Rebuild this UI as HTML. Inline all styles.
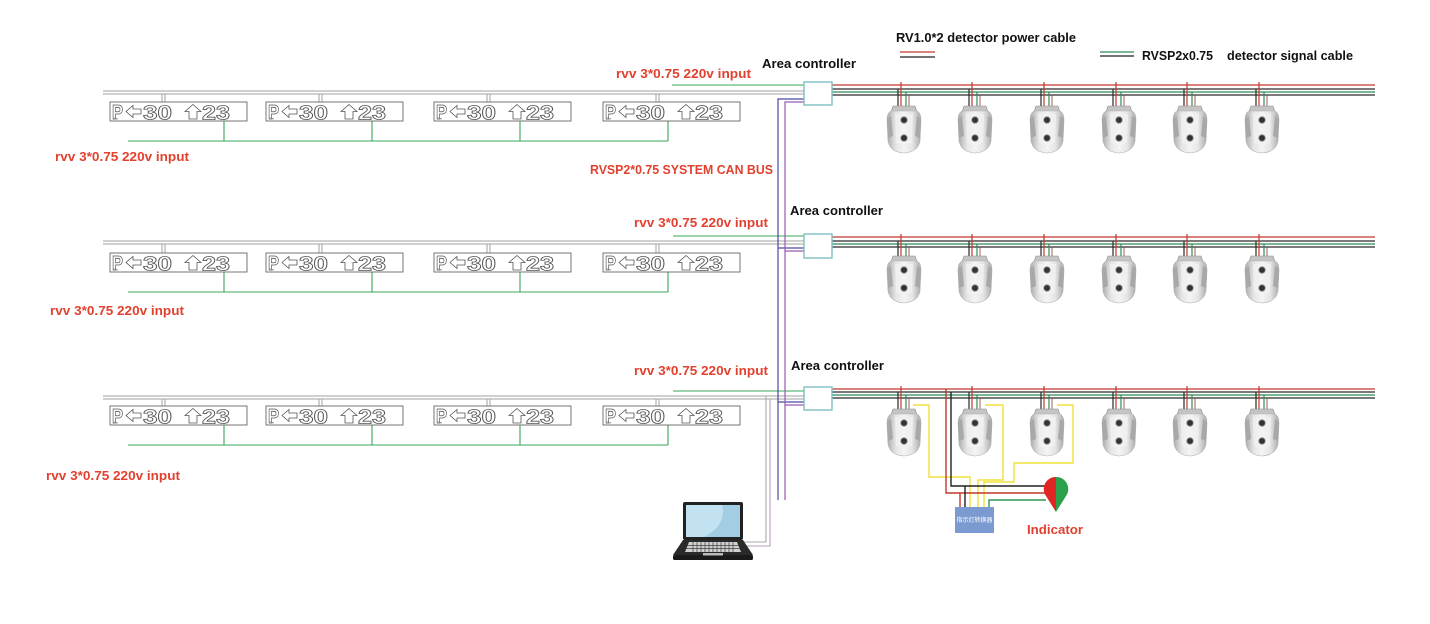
<!DOCTYPE html>
<html><head><meta charset="utf-8"><style>
html,body{margin:0;padding:0;background:#fff;}
svg{display:block;}
.t{font-family:"Liberation Sans","Noto Sans CJK SC",sans-serif;font-weight:bold;font-size:13px;}
.red{fill:#e2412f;}
.blk{fill:#111;}
.sg{font-family:"Liberation Sans",sans-serif;font-weight:bold;font-size:20px;fill:#fff;stroke:#555;stroke-width:0.8;}
.ar{fill:#fff;stroke:#555;stroke-width:0.8;}
.sb{fill:#fff;stroke:#666;stroke-width:0.9;}
</style></head><body>
<svg width="1430" height="624" viewBox="0 0 1430 624" xmlns="http://www.w3.org/2000/svg">
<defs>
<linearGradient id="dg" x1="0" y1="0" x2="1" y2="0">
<stop offset="0" stop-color="#a9a9a9"/><stop offset="0.25" stop-color="#e4e4e4"/><stop offset="0.5" stop-color="#f4f4f4"/><stop offset="0.75" stop-color="#e4e4e4"/><stop offset="1" stop-color="#a9a9a9"/>
</linearGradient>
</defs>
<rect width="1430" height="624" fill="#fff"/>

<!-- Legend -->
<text class="t blk" x="896" y="42" textLength="180" lengthAdjust="spacingAndGlyphs">RV1.0*2 detector power cable</text>
<line x1="900" y1="52" x2="935" y2="52" stroke="#c0392b" stroke-width="1.2"/>
<line x1="900" y1="57" x2="935" y2="57" stroke="#222" stroke-width="1.2"/>
<line x1="1100" y1="52" x2="1134" y2="52" stroke="#2e8b57" stroke-width="1.2"/>
<line x1="1100" y1="56" x2="1134" y2="56" stroke="#222" stroke-width="1.2"/>
<text class="t blk" x="1142" y="60" textLength="71" lengthAdjust="spacingAndGlyphs">RVSP2x0.75</text>
<text class="t blk" x="1227" y="60" textLength="126" lengthAdjust="spacingAndGlyphs">detector signal cable</text>

<!-- Labels -->
<text class="t blk" x="762" y="68" textLength="94" lengthAdjust="spacingAndGlyphs">Area controller</text>
<text class="t red" x="616" y="78" textLength="135" lengthAdjust="spacingAndGlyphs">rvv 3*0.75 220v input</text>
<text class="t red" x="55" y="161" textLength="134" lengthAdjust="spacingAndGlyphs">rvv 3*0.75 220v input</text>
<text class="t red" x="590" y="174" textLength="183" lengthAdjust="spacingAndGlyphs">RVSP2*0.75 SYSTEM CAN BUS</text>
<text class="t blk" x="790" y="215" textLength="93" lengthAdjust="spacingAndGlyphs">Area controller</text>
<text class="t red" x="634" y="227" textLength="134" lengthAdjust="spacingAndGlyphs">rvv 3*0.75 220v input</text>
<text class="t red" x="50" y="315" textLength="134" lengthAdjust="spacingAndGlyphs">rvv 3*0.75 220v input</text>
<text class="t blk" x="791" y="370" textLength="93" lengthAdjust="spacingAndGlyphs">Area controller</text>
<text class="t red" x="634" y="375" textLength="134" lengthAdjust="spacingAndGlyphs">rvv 3*0.75 220v input</text>
<text class="t red" x="46" y="480" textLength="134" lengthAdjust="spacingAndGlyphs">rvv 3*0.75 220v input</text>
<text class="t red" x="1027" y="534" textLength="56" lengthAdjust="spacingAndGlyphs">Indicator</text>

<!-- Grey main lines (left) -->
<g stroke="#a0a0a0" stroke-width="1" fill="none">
<path d="M103,91H804M103,94H804"/>
<path d="M103,241H804M103,244H804"/>
<path d="M103,396H804M103,399H804"/>
<!-- drops to signs -->
<path d="M162,94V102M165,94V102M319,94V102M322,94V102M487,94V102M490,94V102M656,94V102M659,94V102"/>
<path d="M162,244V253M165,244V253M319,244V253M322,244V253M487,244V253M490,244V253M656,244V253M659,244V253"/>
<path d="M162,399V406M165,399V406M319,399V406M322,399V406M487,399V406M490,399V406M656,399V406M659,399V406"/>
</g>

<!-- Green lines -->
<g stroke="#3aa55a" stroke-width="1.1" fill="none">
<path d="M128,141H668M224,121V141M372,121V141M520,121V141M668,121V141"/>
<path d="M128,292H668M224,272V292M372,272V292M520,272V292M668,272V292"/>
<path d="M128,445H668M224,425V445M372,425V445M520,425V445M668,425V445"/>
<path d="M672,85H804M673,236H804M673,391H804"/>
</g>

<!-- CAN bus -->
<g fill="none" stroke-width="1.2">
<path d="M804,99H778V500M778,248H804M778,402H804" stroke="#4a4aa0"/>
<path d="M804,102H785V500M785,251H804M785,405H804" stroke="#9a5ab0"/>
</g>
<!-- laptop wires -->
<path d="M743,542H766V396" fill="none" stroke="#aaa" stroke-width="1.1"/>
<path d="M743,546H770V399" fill="none" stroke="#b79cc0" stroke-width="1.1"/>

<!-- Right bus lines -->
<g fill="none" stroke-width="1.2">
<path d="M832,85H1375M832,237H1375M832,389H1375" stroke="#c0392b"/>
<path d="M832,89H1375M832,95H1375M832,241H1375M832,247H1375M832,392H1375M832,398H1375" stroke="#2a2a2a"/>
<path d="M832,92H1375M832,244H1375M832,395H1375" stroke="#2e8b57"/>
<!-- detector drops -->
<path d="M898,89V109M969,89V109M1041,89V109M1113,89V109M1184,89V109M1256,89V109M898,241V259M969,241V259M1041,241V259M1113,241V259M1184,241V259M1256,241V259M898,392V412M969,392V412M1041,392V412M1113,392V412M1184,392V412M1256,392V412" stroke="#2a2a2a"/>
<path d="M901,82V109M972,82V109M1044,82V109M1116,82V109M1187,82V109M1259,82V109M901,234V259M972,234V259M1044,234V259M1116,234V259M1187,234V259M1259,234V259M901,386V412M972,386V412M1044,386V412M1116,386V412M1187,386V412M1259,386V412" stroke="#c0392b"/>
<path d="M906,92V109M977,92V109M1049,92V109M1121,92V109M1192,92V109M1264,92V109M906,244V259M977,244V259M1049,244V259M1121,244V259M1192,244V259M1264,244V259M906,395V412M977,395V412M1049,395V412M1121,395V412M1192,395V412M1264,395V412" stroke="#2e8b57"/>
<path d="M909,95V109M980,95V109M1052,95V109M1124,95V109M1195,95V109M1267,95V109M909,247V259M980,247V259M1052,247V259M1124,247V259M1195,247V259M1267,247V259M909,398V412M980,398V412M1052,398V412M1124,398V412M1195,398V412M1267,398V412" stroke="#9a4a4a" stroke-width="0.9"/>
</g>

<!-- Controllers -->
<g fill="#fff" stroke="#7fbfc4" stroke-width="1.4">
<rect x="804" y="82" width="28" height="23"/>
<rect x="804" y="234" width="28" height="24"/>
<rect x="804" y="387" width="28" height="23"/>
</g>

<!-- Indicator wiring (row 3) -->
<g fill="none" stroke-width="1.4">
<path d="M913,405H929V477H970V507" stroke="#f2e23a"/>
<path d="M985,405H1003V480H978V507" stroke="#f2e23a"/>
<path d="M1057,405H1073V463H1014V482H984V507" stroke="#f2e23a"/>
<path d="M946,389V493H1046M960,493V507" stroke="#c0392b"/>
<path d="M951,392V486H1046M965,486V507" stroke="#222"/>
<path d="M989,507V500H1046" stroke="#2e9a55"/>
</g>
<rect x="955" y="507" width="39" height="26" fill="#7b9bd0"/>
<text x="974.5" y="522" text-anchor="middle" font-family="'Liberation Sans','Noto Sans CJK SC',sans-serif" font-size="6" fill="#fff">指示灯转换器</text>
<path d="M1056,512 L1046,496 A12,12 0 0,1 1056,477 Z" fill="#e02525"/>
<path d="M1056,512 L1066,496 A12,12 0 0,0 1056,477 Z" fill="#2aa04a"/>

<!-- Signs -->
<g transform="translate(110,102)"><rect class="sb" width="137" height="19"/><text class="sg" x="2" y="17" textLength="11" lengthAdjust="spacingAndGlyphs">P</text><text x="3.5" y="17.5" font-size="3" fill="#555" font-family="Liberation Sans,sans-serif">Car</text><path class="ar" d="M16,9.5L23,3.5V7H31V12H23V15.5Z"/><text class="sg" x="33" y="17.5" textLength="29" lengthAdjust="spacingAndGlyphs">30</text><path class="ar" d="M83,2.5L91,9.5H87V17H79V9.5H75Z"/><text class="sg" x="92" y="17.5" textLength="28" lengthAdjust="spacingAndGlyphs">23</text></g>
<g transform="translate(266,102)"><rect class="sb" width="137" height="19"/><text class="sg" x="2" y="17" textLength="11" lengthAdjust="spacingAndGlyphs">P</text><text x="3.5" y="17.5" font-size="3" fill="#555" font-family="Liberation Sans,sans-serif">Car</text><path class="ar" d="M16,9.5L23,3.5V7H31V12H23V15.5Z"/><text class="sg" x="33" y="17.5" textLength="29" lengthAdjust="spacingAndGlyphs">30</text><path class="ar" d="M83,2.5L91,9.5H87V17H79V9.5H75Z"/><text class="sg" x="92" y="17.5" textLength="28" lengthAdjust="spacingAndGlyphs">23</text></g>
<g transform="translate(434,102)"><rect class="sb" width="137" height="19"/><text class="sg" x="2" y="17" textLength="11" lengthAdjust="spacingAndGlyphs">P</text><text x="3.5" y="17.5" font-size="3" fill="#555" font-family="Liberation Sans,sans-serif">Car</text><path class="ar" d="M16,9.5L23,3.5V7H31V12H23V15.5Z"/><text class="sg" x="33" y="17.5" textLength="29" lengthAdjust="spacingAndGlyphs">30</text><path class="ar" d="M83,2.5L91,9.5H87V17H79V9.5H75Z"/><text class="sg" x="92" y="17.5" textLength="28" lengthAdjust="spacingAndGlyphs">23</text></g>
<g transform="translate(603,102)"><rect class="sb" width="137" height="19"/><text class="sg" x="2" y="17" textLength="11" lengthAdjust="spacingAndGlyphs">P</text><text x="3.5" y="17.5" font-size="3" fill="#555" font-family="Liberation Sans,sans-serif">Car</text><path class="ar" d="M16,9.5L23,3.5V7H31V12H23V15.5Z"/><text class="sg" x="33" y="17.5" textLength="29" lengthAdjust="spacingAndGlyphs">30</text><path class="ar" d="M83,2.5L91,9.5H87V17H79V9.5H75Z"/><text class="sg" x="92" y="17.5" textLength="28" lengthAdjust="spacingAndGlyphs">23</text></g>

<g transform="translate(110,253)"><rect class="sb" width="137" height="19"/><text class="sg" x="2" y="17" textLength="11" lengthAdjust="spacingAndGlyphs">P</text><text x="3.5" y="17.5" font-size="3" fill="#555" font-family="Liberation Sans,sans-serif">Car</text><path class="ar" d="M16,9.5L23,3.5V7H31V12H23V15.5Z"/><text class="sg" x="33" y="17.5" textLength="29" lengthAdjust="spacingAndGlyphs">30</text><path class="ar" d="M83,2.5L91,9.5H87V17H79V9.5H75Z"/><text class="sg" x="92" y="17.5" textLength="28" lengthAdjust="spacingAndGlyphs">23</text></g>
<g transform="translate(266,253)"><rect class="sb" width="137" height="19"/><text class="sg" x="2" y="17" textLength="11" lengthAdjust="spacingAndGlyphs">P</text><text x="3.5" y="17.5" font-size="3" fill="#555" font-family="Liberation Sans,sans-serif">Car</text><path class="ar" d="M16,9.5L23,3.5V7H31V12H23V15.5Z"/><text class="sg" x="33" y="17.5" textLength="29" lengthAdjust="spacingAndGlyphs">30</text><path class="ar" d="M83,2.5L91,9.5H87V17H79V9.5H75Z"/><text class="sg" x="92" y="17.5" textLength="28" lengthAdjust="spacingAndGlyphs">23</text></g>
<g transform="translate(434,253)"><rect class="sb" width="137" height="19"/><text class="sg" x="2" y="17" textLength="11" lengthAdjust="spacingAndGlyphs">P</text><text x="3.5" y="17.5" font-size="3" fill="#555" font-family="Liberation Sans,sans-serif">Car</text><path class="ar" d="M16,9.5L23,3.5V7H31V12H23V15.5Z"/><text class="sg" x="33" y="17.5" textLength="29" lengthAdjust="spacingAndGlyphs">30</text><path class="ar" d="M83,2.5L91,9.5H87V17H79V9.5H75Z"/><text class="sg" x="92" y="17.5" textLength="28" lengthAdjust="spacingAndGlyphs">23</text></g>
<g transform="translate(603,253)"><rect class="sb" width="137" height="19"/><text class="sg" x="2" y="17" textLength="11" lengthAdjust="spacingAndGlyphs">P</text><text x="3.5" y="17.5" font-size="3" fill="#555" font-family="Liberation Sans,sans-serif">Car</text><path class="ar" d="M16,9.5L23,3.5V7H31V12H23V15.5Z"/><text class="sg" x="33" y="17.5" textLength="29" lengthAdjust="spacingAndGlyphs">30</text><path class="ar" d="M83,2.5L91,9.5H87V17H79V9.5H75Z"/><text class="sg" x="92" y="17.5" textLength="28" lengthAdjust="spacingAndGlyphs">23</text></g>

<g transform="translate(110,406)"><rect class="sb" width="137" height="19"/><text class="sg" x="2" y="17" textLength="11" lengthAdjust="spacingAndGlyphs">P</text><text x="3.5" y="17.5" font-size="3" fill="#555" font-family="Liberation Sans,sans-serif">Car</text><path class="ar" d="M16,9.5L23,3.5V7H31V12H23V15.5Z"/><text class="sg" x="33" y="17.5" textLength="29" lengthAdjust="spacingAndGlyphs">30</text><path class="ar" d="M83,2.5L91,9.5H87V17H79V9.5H75Z"/><text class="sg" x="92" y="17.5" textLength="28" lengthAdjust="spacingAndGlyphs">23</text></g>
<g transform="translate(266,406)"><rect class="sb" width="137" height="19"/><text class="sg" x="2" y="17" textLength="11" lengthAdjust="spacingAndGlyphs">P</text><text x="3.5" y="17.5" font-size="3" fill="#555" font-family="Liberation Sans,sans-serif">Car</text><path class="ar" d="M16,9.5L23,3.5V7H31V12H23V15.5Z"/><text class="sg" x="33" y="17.5" textLength="29" lengthAdjust="spacingAndGlyphs">30</text><path class="ar" d="M83,2.5L91,9.5H87V17H79V9.5H75Z"/><text class="sg" x="92" y="17.5" textLength="28" lengthAdjust="spacingAndGlyphs">23</text></g>
<g transform="translate(434,406)"><rect class="sb" width="137" height="19"/><text class="sg" x="2" y="17" textLength="11" lengthAdjust="spacingAndGlyphs">P</text><text x="3.5" y="17.5" font-size="3" fill="#555" font-family="Liberation Sans,sans-serif">Car</text><path class="ar" d="M16,9.5L23,3.5V7H31V12H23V15.5Z"/><text class="sg" x="33" y="17.5" textLength="29" lengthAdjust="spacingAndGlyphs">30</text><path class="ar" d="M83,2.5L91,9.5H87V17H79V9.5H75Z"/><text class="sg" x="92" y="17.5" textLength="28" lengthAdjust="spacingAndGlyphs">23</text></g>
<g transform="translate(603,406)"><rect class="sb" width="137" height="19"/><text class="sg" x="2" y="17" textLength="11" lengthAdjust="spacingAndGlyphs">P</text><text x="3.5" y="17.5" font-size="3" fill="#555" font-family="Liberation Sans,sans-serif">Car</text><path class="ar" d="M16,9.5L23,3.5V7H31V12H23V15.5Z"/><text class="sg" x="33" y="17.5" textLength="29" lengthAdjust="spacingAndGlyphs">30</text><path class="ar" d="M83,2.5L91,9.5H87V17H79V9.5H75Z"/><text class="sg" x="92" y="17.5" textLength="28" lengthAdjust="spacingAndGlyphs">23</text></g>

<!-- Detectors -->
<g id="dets">
<g transform="translate(886,105)"><path d="M7,1H29L31,7H5Z" fill="#c4c4c4" stroke="#8a8a8a" stroke-width="0.6"/><path d="M5,6H31Q35,8 35,15L34,36Q32,47 18,48Q4,47 2,36L1,15Q1,8 5,6Z" fill="url(#dg)" stroke="#b0b0b0" stroke-width="0.6"/><path d="M1,14L5,11L7,31L2,33Z" fill="#a8a8a8"/><path d="M35,14L31,11L29,31L34,33Z" fill="#a8a8a8"/><path d="M9,9H27L26,38Q18,41 10,38Z" fill="#f2f2f2" opacity=".7"/><circle cx="18" cy="15" r="3.3" fill="#333" stroke="#999" stroke-width="0.8"/><circle cx="18" cy="33" r="3.3" fill="#333" stroke="#999" stroke-width="0.8"/></g>
<g transform="translate(957,105)"><path d="M7,1H29L31,7H5Z" fill="#c4c4c4" stroke="#8a8a8a" stroke-width="0.6"/><path d="M5,6H31Q35,8 35,15L34,36Q32,47 18,48Q4,47 2,36L1,15Q1,8 5,6Z" fill="url(#dg)" stroke="#b0b0b0" stroke-width="0.6"/><path d="M1,14L5,11L7,31L2,33Z" fill="#a8a8a8"/><path d="M35,14L31,11L29,31L34,33Z" fill="#a8a8a8"/><path d="M9,9H27L26,38Q18,41 10,38Z" fill="#f2f2f2" opacity=".7"/><circle cx="18" cy="15" r="3.3" fill="#333" stroke="#999" stroke-width="0.8"/><circle cx="18" cy="33" r="3.3" fill="#333" stroke="#999" stroke-width="0.8"/></g>
<g transform="translate(1029,105)"><path d="M7,1H29L31,7H5Z" fill="#c4c4c4" stroke="#8a8a8a" stroke-width="0.6"/><path d="M5,6H31Q35,8 35,15L34,36Q32,47 18,48Q4,47 2,36L1,15Q1,8 5,6Z" fill="url(#dg)" stroke="#b0b0b0" stroke-width="0.6"/><path d="M1,14L5,11L7,31L2,33Z" fill="#a8a8a8"/><path d="M35,14L31,11L29,31L34,33Z" fill="#a8a8a8"/><path d="M9,9H27L26,38Q18,41 10,38Z" fill="#f2f2f2" opacity=".7"/><circle cx="18" cy="15" r="3.3" fill="#333" stroke="#999" stroke-width="0.8"/><circle cx="18" cy="33" r="3.3" fill="#333" stroke="#999" stroke-width="0.8"/></g>
<g transform="translate(1101,105)"><path d="M7,1H29L31,7H5Z" fill="#c4c4c4" stroke="#8a8a8a" stroke-width="0.6"/><path d="M5,6H31Q35,8 35,15L34,36Q32,47 18,48Q4,47 2,36L1,15Q1,8 5,6Z" fill="url(#dg)" stroke="#b0b0b0" stroke-width="0.6"/><path d="M1,14L5,11L7,31L2,33Z" fill="#a8a8a8"/><path d="M35,14L31,11L29,31L34,33Z" fill="#a8a8a8"/><path d="M9,9H27L26,38Q18,41 10,38Z" fill="#f2f2f2" opacity=".7"/><circle cx="18" cy="15" r="3.3" fill="#333" stroke="#999" stroke-width="0.8"/><circle cx="18" cy="33" r="3.3" fill="#333" stroke="#999" stroke-width="0.8"/></g>
<g transform="translate(1172,105)"><path d="M7,1H29L31,7H5Z" fill="#c4c4c4" stroke="#8a8a8a" stroke-width="0.6"/><path d="M5,6H31Q35,8 35,15L34,36Q32,47 18,48Q4,47 2,36L1,15Q1,8 5,6Z" fill="url(#dg)" stroke="#b0b0b0" stroke-width="0.6"/><path d="M1,14L5,11L7,31L2,33Z" fill="#a8a8a8"/><path d="M35,14L31,11L29,31L34,33Z" fill="#a8a8a8"/><path d="M9,9H27L26,38Q18,41 10,38Z" fill="#f2f2f2" opacity=".7"/><circle cx="18" cy="15" r="3.3" fill="#333" stroke="#999" stroke-width="0.8"/><circle cx="18" cy="33" r="3.3" fill="#333" stroke="#999" stroke-width="0.8"/></g>
<g transform="translate(1244,105)"><path d="M7,1H29L31,7H5Z" fill="#c4c4c4" stroke="#8a8a8a" stroke-width="0.6"/><path d="M5,6H31Q35,8 35,15L34,36Q32,47 18,48Q4,47 2,36L1,15Q1,8 5,6Z" fill="url(#dg)" stroke="#b0b0b0" stroke-width="0.6"/><path d="M1,14L5,11L7,31L2,33Z" fill="#a8a8a8"/><path d="M35,14L31,11L29,31L34,33Z" fill="#a8a8a8"/><path d="M9,9H27L26,38Q18,41 10,38Z" fill="#f2f2f2" opacity=".7"/><circle cx="18" cy="15" r="3.3" fill="#333" stroke="#999" stroke-width="0.8"/><circle cx="18" cy="33" r="3.3" fill="#333" stroke="#999" stroke-width="0.8"/></g>

<g transform="translate(886,255)"><path d="M7,1H29L31,7H5Z" fill="#c4c4c4" stroke="#8a8a8a" stroke-width="0.6"/><path d="M5,6H31Q35,8 35,15L34,36Q32,47 18,48Q4,47 2,36L1,15Q1,8 5,6Z" fill="url(#dg)" stroke="#b0b0b0" stroke-width="0.6"/><path d="M1,14L5,11L7,31L2,33Z" fill="#a8a8a8"/><path d="M35,14L31,11L29,31L34,33Z" fill="#a8a8a8"/><path d="M9,9H27L26,38Q18,41 10,38Z" fill="#f2f2f2" opacity=".7"/><circle cx="18" cy="15" r="3.3" fill="#333" stroke="#999" stroke-width="0.8"/><circle cx="18" cy="33" r="3.3" fill="#333" stroke="#999" stroke-width="0.8"/></g>
<g transform="translate(957,255)"><path d="M7,1H29L31,7H5Z" fill="#c4c4c4" stroke="#8a8a8a" stroke-width="0.6"/><path d="M5,6H31Q35,8 35,15L34,36Q32,47 18,48Q4,47 2,36L1,15Q1,8 5,6Z" fill="url(#dg)" stroke="#b0b0b0" stroke-width="0.6"/><path d="M1,14L5,11L7,31L2,33Z" fill="#a8a8a8"/><path d="M35,14L31,11L29,31L34,33Z" fill="#a8a8a8"/><path d="M9,9H27L26,38Q18,41 10,38Z" fill="#f2f2f2" opacity=".7"/><circle cx="18" cy="15" r="3.3" fill="#333" stroke="#999" stroke-width="0.8"/><circle cx="18" cy="33" r="3.3" fill="#333" stroke="#999" stroke-width="0.8"/></g>
<g transform="translate(1029,255)"><path d="M7,1H29L31,7H5Z" fill="#c4c4c4" stroke="#8a8a8a" stroke-width="0.6"/><path d="M5,6H31Q35,8 35,15L34,36Q32,47 18,48Q4,47 2,36L1,15Q1,8 5,6Z" fill="url(#dg)" stroke="#b0b0b0" stroke-width="0.6"/><path d="M1,14L5,11L7,31L2,33Z" fill="#a8a8a8"/><path d="M35,14L31,11L29,31L34,33Z" fill="#a8a8a8"/><path d="M9,9H27L26,38Q18,41 10,38Z" fill="#f2f2f2" opacity=".7"/><circle cx="18" cy="15" r="3.3" fill="#333" stroke="#999" stroke-width="0.8"/><circle cx="18" cy="33" r="3.3" fill="#333" stroke="#999" stroke-width="0.8"/></g>
<g transform="translate(1101,255)"><path d="M7,1H29L31,7H5Z" fill="#c4c4c4" stroke="#8a8a8a" stroke-width="0.6"/><path d="M5,6H31Q35,8 35,15L34,36Q32,47 18,48Q4,47 2,36L1,15Q1,8 5,6Z" fill="url(#dg)" stroke="#b0b0b0" stroke-width="0.6"/><path d="M1,14L5,11L7,31L2,33Z" fill="#a8a8a8"/><path d="M35,14L31,11L29,31L34,33Z" fill="#a8a8a8"/><path d="M9,9H27L26,38Q18,41 10,38Z" fill="#f2f2f2" opacity=".7"/><circle cx="18" cy="15" r="3.3" fill="#333" stroke="#999" stroke-width="0.8"/><circle cx="18" cy="33" r="3.3" fill="#333" stroke="#999" stroke-width="0.8"/></g>
<g transform="translate(1172,255)"><path d="M7,1H29L31,7H5Z" fill="#c4c4c4" stroke="#8a8a8a" stroke-width="0.6"/><path d="M5,6H31Q35,8 35,15L34,36Q32,47 18,48Q4,47 2,36L1,15Q1,8 5,6Z" fill="url(#dg)" stroke="#b0b0b0" stroke-width="0.6"/><path d="M1,14L5,11L7,31L2,33Z" fill="#a8a8a8"/><path d="M35,14L31,11L29,31L34,33Z" fill="#a8a8a8"/><path d="M9,9H27L26,38Q18,41 10,38Z" fill="#f2f2f2" opacity=".7"/><circle cx="18" cy="15" r="3.3" fill="#333" stroke="#999" stroke-width="0.8"/><circle cx="18" cy="33" r="3.3" fill="#333" stroke="#999" stroke-width="0.8"/></g>
<g transform="translate(1244,255)"><path d="M7,1H29L31,7H5Z" fill="#c4c4c4" stroke="#8a8a8a" stroke-width="0.6"/><path d="M5,6H31Q35,8 35,15L34,36Q32,47 18,48Q4,47 2,36L1,15Q1,8 5,6Z" fill="url(#dg)" stroke="#b0b0b0" stroke-width="0.6"/><path d="M1,14L5,11L7,31L2,33Z" fill="#a8a8a8"/><path d="M35,14L31,11L29,31L34,33Z" fill="#a8a8a8"/><path d="M9,9H27L26,38Q18,41 10,38Z" fill="#f2f2f2" opacity=".7"/><circle cx="18" cy="15" r="3.3" fill="#333" stroke="#999" stroke-width="0.8"/><circle cx="18" cy="33" r="3.3" fill="#333" stroke="#999" stroke-width="0.8"/></g>

<g transform="translate(886,408)"><path d="M7,1H29L31,7H5Z" fill="#c4c4c4" stroke="#8a8a8a" stroke-width="0.6"/><path d="M5,6H31Q35,8 35,15L34,36Q32,47 18,48Q4,47 2,36L1,15Q1,8 5,6Z" fill="url(#dg)" stroke="#b0b0b0" stroke-width="0.6"/><path d="M1,14L5,11L7,31L2,33Z" fill="#a8a8a8"/><path d="M35,14L31,11L29,31L34,33Z" fill="#a8a8a8"/><path d="M9,9H27L26,38Q18,41 10,38Z" fill="#f2f2f2" opacity=".7"/><circle cx="18" cy="15" r="3.3" fill="#333" stroke="#999" stroke-width="0.8"/><circle cx="18" cy="33" r="3.3" fill="#333" stroke="#999" stroke-width="0.8"/></g>
<g transform="translate(957,408)"><path d="M7,1H29L31,7H5Z" fill="#c4c4c4" stroke="#8a8a8a" stroke-width="0.6"/><path d="M5,6H31Q35,8 35,15L34,36Q32,47 18,48Q4,47 2,36L1,15Q1,8 5,6Z" fill="url(#dg)" stroke="#b0b0b0" stroke-width="0.6"/><path d="M1,14L5,11L7,31L2,33Z" fill="#a8a8a8"/><path d="M35,14L31,11L29,31L34,33Z" fill="#a8a8a8"/><path d="M9,9H27L26,38Q18,41 10,38Z" fill="#f2f2f2" opacity=".7"/><circle cx="18" cy="15" r="3.3" fill="#333" stroke="#999" stroke-width="0.8"/><circle cx="18" cy="33" r="3.3" fill="#333" stroke="#999" stroke-width="0.8"/></g>
<g transform="translate(1029,408)"><path d="M7,1H29L31,7H5Z" fill="#c4c4c4" stroke="#8a8a8a" stroke-width="0.6"/><path d="M5,6H31Q35,8 35,15L34,36Q32,47 18,48Q4,47 2,36L1,15Q1,8 5,6Z" fill="url(#dg)" stroke="#b0b0b0" stroke-width="0.6"/><path d="M1,14L5,11L7,31L2,33Z" fill="#a8a8a8"/><path d="M35,14L31,11L29,31L34,33Z" fill="#a8a8a8"/><path d="M9,9H27L26,38Q18,41 10,38Z" fill="#f2f2f2" opacity=".7"/><circle cx="18" cy="15" r="3.3" fill="#333" stroke="#999" stroke-width="0.8"/><circle cx="18" cy="33" r="3.3" fill="#333" stroke="#999" stroke-width="0.8"/></g>
<g transform="translate(1101,408)"><path d="M7,1H29L31,7H5Z" fill="#c4c4c4" stroke="#8a8a8a" stroke-width="0.6"/><path d="M5,6H31Q35,8 35,15L34,36Q32,47 18,48Q4,47 2,36L1,15Q1,8 5,6Z" fill="url(#dg)" stroke="#b0b0b0" stroke-width="0.6"/><path d="M1,14L5,11L7,31L2,33Z" fill="#a8a8a8"/><path d="M35,14L31,11L29,31L34,33Z" fill="#a8a8a8"/><path d="M9,9H27L26,38Q18,41 10,38Z" fill="#f2f2f2" opacity=".7"/><circle cx="18" cy="15" r="3.3" fill="#333" stroke="#999" stroke-width="0.8"/><circle cx="18" cy="33" r="3.3" fill="#333" stroke="#999" stroke-width="0.8"/></g>
<g transform="translate(1172,408)"><path d="M7,1H29L31,7H5Z" fill="#c4c4c4" stroke="#8a8a8a" stroke-width="0.6"/><path d="M5,6H31Q35,8 35,15L34,36Q32,47 18,48Q4,47 2,36L1,15Q1,8 5,6Z" fill="url(#dg)" stroke="#b0b0b0" stroke-width="0.6"/><path d="M1,14L5,11L7,31L2,33Z" fill="#a8a8a8"/><path d="M35,14L31,11L29,31L34,33Z" fill="#a8a8a8"/><path d="M9,9H27L26,38Q18,41 10,38Z" fill="#f2f2f2" opacity=".7"/><circle cx="18" cy="15" r="3.3" fill="#333" stroke="#999" stroke-width="0.8"/><circle cx="18" cy="33" r="3.3" fill="#333" stroke="#999" stroke-width="0.8"/></g>
<g transform="translate(1244,408)"><path d="M7,1H29L31,7H5Z" fill="#c4c4c4" stroke="#8a8a8a" stroke-width="0.6"/><path d="M5,6H31Q35,8 35,15L34,36Q32,47 18,48Q4,47 2,36L1,15Q1,8 5,6Z" fill="url(#dg)" stroke="#b0b0b0" stroke-width="0.6"/><path d="M1,14L5,11L7,31L2,33Z" fill="#a8a8a8"/><path d="M35,14L31,11L29,31L34,33Z" fill="#a8a8a8"/><path d="M9,9H27L26,38Q18,41 10,38Z" fill="#f2f2f2" opacity=".7"/><circle cx="18" cy="15" r="3.3" fill="#333" stroke="#999" stroke-width="0.8"/><circle cx="18" cy="33" r="3.3" fill="#333" stroke="#999" stroke-width="0.8"/></g>
</g>

<!-- Laptop -->
<rect x="683" y="502" width="60" height="38" rx="2" fill="#222"/>
<rect x="686" y="505" width="54" height="32" fill="#c2e2f2"/>
<path d="M722,505H740V537H704Q727,525 722,505Z" fill="#a3cde3"/>
<path d="M683,540H743L753,555H673Z" fill="#2a2a2a"/>
<rect x="673" y="555" width="80" height="5" rx="1.5" fill="#1a1a1a"/>
<path d="M689,542H737L741,552H685Z" fill="#d0d0d0"/>
<g stroke="#2a2a2a" stroke-width="0.6">
<path d="M685,545.3H741M685,548.6H741"/>
<path d="M693,542V552M697,542V552M701,542V552M705,542V552M709,542V552M713,542V552M717,542V552M721,542V552M725,542V552M729,542V552M733,542V552"/>
</g>
<rect x="703" y="553" width="20" height="2.5" fill="#bbb"/>
</svg>
</body></html>
